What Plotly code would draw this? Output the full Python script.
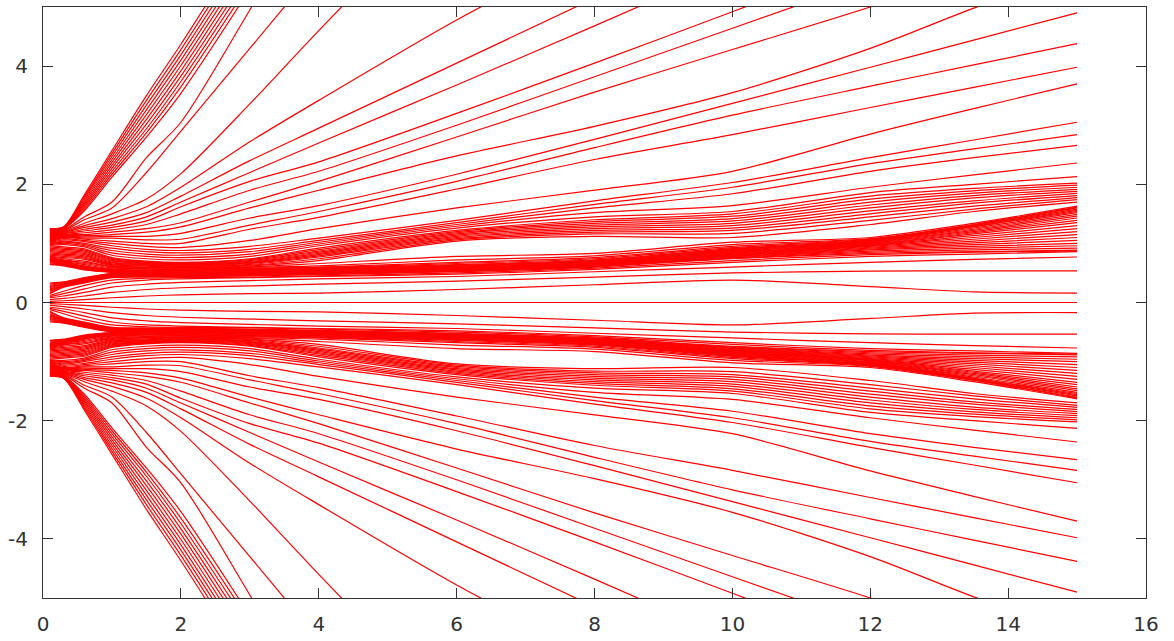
import plotly.graph_objects as go

# shared x positions of the sampled trajectory points
X_GRID = [0.1, 0.3, 0.6, 1.0, 1.5, 2.0, 3.0, 4.0, 6.0, 8.0, 10.0, 12.0, 13.5, 15.0]

CENTER_LINE = [0.0, 0.0, 0.0, 0.0, 0.0, 0.0, 0.0, 0.0, 0.0, 0.0, 0.0, 0.0, 0.0, 0.0]

# upper half: outer fan (leave through the top or end high)
UPPER_FAN = [
    [1.25, 1.28, 1.82, 2.57, 3.50, 4.37, 6.2],
    [1.24, 1.28, 1.79, 2.52, 3.42, 4.28, 6.1],
    [1.23, 1.27, 1.76, 2.47, 3.34, 4.19, 6.0],
    [1.22, 1.27, 1.73, 2.42, 3.26, 4.10, 5.9],
    [1.21, 1.26, 1.70, 2.37, 3.18, 4.01, 5.8],
    [1.20, 1.26, 1.67, 2.32, 3.10, 3.92, 5.7],
    [1.19, 1.25, 1.64, 2.27, 3.02, 3.83, 5.6],
    [1.18, 1.25, 1.61, 2.22, 2.94, 3.74, 5.5],
    [1.17, 1.24, 1.58, 2.17, 2.87, 3.65, 5.4],
    [1.16, 1.24, 1.55, 2.12, 2.80, 3.54, 5.3],
    [1.15, 1.22, 1.45, 1.70, 2.45, 3.05, 4.95, 6.9],
    [1.14, 1.21, 1.40, 1.60, 2.20, 2.90, 4.30, 5.7],
    [1.13, 1.20, 1.34, 1.50, 1.75, 2.18, 3.36, 4.60, 7.0],
    [1.12, 1.19, 1.30, 1.42, 1.62, 1.95, 2.72, 3.42, 4.78, 6.0],
    [1.11, 1.18, 1.27, 1.36, 1.52, 1.80, 2.40, 2.95, 4.05, 5.15],
    [1.10, 1.17, 1.24, 1.31, 1.45, 1.70, 2.20, 2.70, 3.68, 4.68, 5.7],
    [1.09, 1.16, 1.21, 1.27, 1.38, 1.62, 2.05, 2.38, 3.20, 4.05, 4.92, 5.8],
    [1.08, 1.15, 1.18, 1.23, 1.32, 1.50, 1.90, 2.22, 3.00, 3.82, 4.64, 5.46],
    [1.07, 1.14, 1.15, 1.19, 1.25, 1.35, 1.70, 2.05, 2.80, 3.56, 4.28, 5.0, 5.6],
    [1.06, 1.13, 1.13, 1.15, 1.19, 1.28, 1.60, 1.90, 2.48, 2.98, 3.55, 4.30, 4.98, 5.6],
    [1.05, 1.12, 1.11, 1.12, 1.12, 1.17, 1.43, 1.64, 2.17, 2.76, 3.37, 3.98, 4.44, 4.90],
    [1.04, 1.11, 1.09, 1.09, 1.06, 1.07, 1.31, 1.54, 2.05, 2.62, 3.17, 3.66, 4.02, 4.38],
    [1.03, 1.10, 1.07, 1.04, 1.00, 1.00, 1.24, 1.44, 1.92, 2.42, 2.84, 3.30, 3.64, 3.98],
    [1.02, 1.08, 1.05, 1.00, 0.95, 0.93, 1.05, 1.25, 1.60, 1.90, 2.22, 2.85, 3.28, 3.70],
    [1.01, 1.06, 1.03, 0.96, 0.90, 0.88, 0.95, 1.09, 1.39, 1.72, 2.03, 2.45, 2.75, 3.05],
    [1.00, 1.04, 1.00, 0.92, 0.86, 0.84, 0.90, 1.05, 1.35, 1.66, 1.95, 2.35, 2.60, 2.84],
    [0.99, 1.02, 0.98, 0.88, 0.82, 0.80, 0.86, 1.02, 1.32, 1.60, 1.84, 2.22, 2.45, 2.66],
    [0.98, 1.00, 0.96, 0.84, 0.78, 0.76, 0.82, 0.99, 1.29, 1.52, 1.64, 1.95, 2.16, 2.36],
    [0.97, 0.98, 0.94, 0.80, 0.74, 0.72, 0.78, 0.96, 1.26, 1.45, 1.54, 1.86, 2.00, 2.13],
]

# upper half: band that ends between 1.70 and 2.02
UPPER_BAND_HIGH = [
    [0.96, 0.94, 0.91, 0.76, 0.70, 0.68, 0.74, 0.92, 1.22, 1.40, 1.50, 1.80, 1.93, 2.02],
    [0.94, 0.92, 0.89, 0.745, 0.69, 0.67, 0.725, 0.895, 1.20, 1.37, 1.46, 1.75, 1.89, 1.985],
    [0.92, 0.90, 0.87, 0.73, 0.68, 0.66, 0.71, 0.87, 1.18, 1.34, 1.42, 1.70, 1.85, 1.95],
    [0.90, 0.88, 0.85, 0.715, 0.67, 0.65, 0.695, 0.85, 1.16, 1.31, 1.38, 1.65, 1.81, 1.915],
    [0.88, 0.86, 0.83, 0.70, 0.66, 0.64, 0.68, 0.83, 1.14, 1.28, 1.34, 1.60, 1.77, 1.88],
    [0.86, 0.84, 0.81, 0.685, 0.65, 0.63, 0.67, 0.81, 1.12, 1.25, 1.30, 1.55, 1.72, 1.845],
    [0.84, 0.82, 0.79, 0.67, 0.64, 0.62, 0.66, 0.79, 1.10, 1.22, 1.26, 1.50, 1.68, 1.81],
    [0.82, 0.80, 0.77, 0.655, 0.63, 0.61, 0.645, 0.77, 1.08, 1.19, 1.22, 1.45, 1.63, 1.775],
    [0.80, 0.78, 0.75, 0.64, 0.615, 0.60, 0.63, 0.74, 1.06, 1.16, 1.17, 1.39, 1.58, 1.74],
    [0.78, 0.76, 0.73, 0.625, 0.60, 0.59, 0.62, 0.71, 1.04, 1.12, 1.10, 1.32, 1.54, 1.70],
]

# upper half: band that ends between 0.885 and 1.63
UPPER_BAND_LOW = [
    [0.15, 0.26, 0.33, 0.42, 0.43, 0.43, 0.45, 0.47, 0.52, 0.60, 0.74, 0.83, 0.86, 0.885],
    [0.17, 0.27, 0.34, 0.43, 0.44, 0.44, 0.46, 0.48, 0.53, 0.61, 0.75, 0.85, 0.89, 0.92],
    [0.19, 0.28, 0.35, 0.44, 0.45, 0.445, 0.465, 0.485, 0.535, 0.615, 0.76, 0.87, 0.92, 0.96],
    [0.21, 0.29, 0.36, 0.45, 0.455, 0.45, 0.47, 0.49, 0.54, 0.62, 0.77, 0.89, 0.95, 1.00],
    [0.23, 0.30, 0.37, 0.46, 0.46, 0.455, 0.475, 0.495, 0.545, 0.625, 0.78, 0.905, 0.98, 1.05],
    [0.25, 0.31, 0.38, 0.47, 0.465, 0.46, 0.48, 0.50, 0.55, 0.63, 0.79, 0.92, 1.01, 1.10],
    [0.27, 0.32, 0.39, 0.48, 0.47, 0.465, 0.485, 0.505, 0.555, 0.635, 0.80, 0.935, 1.04, 1.15],
    [0.29, 0.33, 0.40, 0.485, 0.475, 0.47, 0.49, 0.51, 0.56, 0.64, 0.81, 0.95, 1.07, 1.20],
    [0.31, 0.34, 0.41, 0.49, 0.48, 0.475, 0.495, 0.515, 0.565, 0.645, 0.82, 0.96, 1.10, 1.25],
    [0.33, 0.35, 0.42, 0.495, 0.485, 0.48, 0.50, 0.52, 0.57, 0.65, 0.83, 0.97, 1.13, 1.30],
    [0.64, 0.62, 0.55, 0.51, 0.49, 0.485, 0.505, 0.525, 0.575, 0.655, 0.84, 0.98, 1.16, 1.35],
    [0.655, 0.63, 0.56, 0.515, 0.495, 0.49, 0.51, 0.53, 0.58, 0.66, 0.85, 0.99, 1.18, 1.39],
    [0.67, 0.64, 0.57, 0.52, 0.50, 0.495, 0.515, 0.535, 0.59, 0.67, 0.86, 1.00, 1.20, 1.43],
    [0.685, 0.65, 0.58, 0.525, 0.505, 0.50, 0.52, 0.54, 0.60, 0.68, 0.87, 1.01, 1.22, 1.46],
    [0.70, 0.66, 0.59, 0.53, 0.51, 0.51, 0.53, 0.55, 0.61, 0.69, 0.88, 1.02, 1.24, 1.49],
    [0.71, 0.67, 0.60, 0.54, 0.52, 0.52, 0.54, 0.56, 0.62, 0.70, 0.89, 1.03, 1.26, 1.52],
    [0.72, 0.68, 0.61, 0.55, 0.53, 0.53, 0.55, 0.57, 0.63, 0.71, 0.90, 1.04, 1.28, 1.54],
    [0.73, 0.69, 0.62, 0.56, 0.54, 0.54, 0.56, 0.58, 0.64, 0.72, 0.91, 1.05, 1.29, 1.56],
    [0.74, 0.70, 0.64, 0.57, 0.55, 0.55, 0.57, 0.59, 0.66, 0.74, 0.93, 1.06, 1.30, 1.58],
    [0.75, 0.71, 0.66, 0.585, 0.565, 0.56, 0.58, 0.60, 0.68, 0.76, 0.95, 1.07, 1.31, 1.60],
    [0.76, 0.72, 0.68, 0.60, 0.575, 0.57, 0.595, 0.62, 0.72, 0.79, 0.98, 1.08, 1.32, 1.615],
    [0.77, 0.74, 0.70, 0.61, 0.59, 0.58, 0.605, 0.66, 0.78, 0.83, 1.02, 1.10, 1.34, 1.63],
]

# upper half: sparse lines just above the centre
UPPER_MID = [
    [0.02, 0.03, 0.05, 0.08, 0.11, 0.13, 0.15, 0.16, 0.22, 0.30, 0.38, 0.27, 0.18, 0.16],
    [0.05, 0.07, 0.11, 0.17, 0.22, 0.25, 0.28, 0.31, 0.36, 0.43, 0.50, 0.53, 0.535, 0.535],
    [0.08, 0.11, 0.17, 0.26, 0.31, 0.34, 0.37, 0.40, 0.44, 0.52, 0.60, 0.68, 0.73, 0.77],
    [0.10, 0.15, 0.23, 0.33, 0.38, 0.40, 0.42, 0.44, 0.48, 0.56, 0.68, 0.78, 0.82, 0.86],
    [0.12, 0.19, 0.29, 0.38, 0.41, 0.42, 0.43, 0.45, 0.50, 0.58, 0.71, 0.81, 0.85, 0.875],
]

LOWER_FAN = [
    [-1.25, -1.28, -1.82, -2.57, -3.50, -4.37, -6.2],
    [-1.24, -1.28, -1.79, -2.52, -3.42, -4.28, -6.1],
    [-1.23, -1.27, -1.76, -2.47, -3.34, -4.19, -6.0],
    [-1.22, -1.27, -1.73, -2.42, -3.26, -4.10, -5.9],
    [-1.21, -1.26, -1.70, -2.37, -3.18, -4.01, -5.8],
    [-1.20, -1.26, -1.67, -2.32, -3.10, -3.92, -5.7],
    [-1.19, -1.25, -1.64, -2.27, -3.02, -3.83, -5.6],
    [-1.18, -1.25, -1.61, -2.22, -2.94, -3.74, -5.5],
    [-1.17, -1.24, -1.58, -2.17, -2.87, -3.65, -5.4],
    [-1.16, -1.24, -1.55, -2.12, -2.80, -3.54, -5.3],
    [-1.15, -1.22, -1.45, -1.70, -2.45, -3.05, -4.95, -6.9],
    [-1.14, -1.21, -1.40, -1.60, -2.20, -2.90, -4.30, -5.7],
    [-1.13, -1.20, -1.34, -1.50, -1.75, -2.18, -3.36, -4.60, -7.0],
    [-1.12, -1.19, -1.30, -1.42, -1.62, -1.95, -2.72, -3.42, -4.78, -6.0],
    [-1.11, -1.18, -1.27, -1.36, -1.52, -1.80, -2.40, -2.95, -4.05, -5.15],
    [-1.10, -1.17, -1.24, -1.31, -1.45, -1.70, -2.20, -2.70, -3.68, -4.68, -5.7],
    [-1.09, -1.16, -1.21, -1.27, -1.38, -1.62, -2.05, -2.38, -3.20, -4.05, -4.92, -5.8],
    [-1.08, -1.15, -1.18, -1.23, -1.32, -1.50, -1.90, -2.22, -3.00, -3.82, -4.64, -5.46],
    [-1.07, -1.14, -1.15, -1.19, -1.25, -1.35, -1.70, -2.05, -2.80, -3.56, -4.28, -5.0, -5.6],
    [-1.06, -1.13, -1.13, -1.15, -1.19, -1.28, -1.60, -1.90, -2.48, -2.98, -3.55, -4.30, -4.98, -5.6],
    [-1.05, -1.12, -1.11, -1.12, -1.12, -1.17, -1.43, -1.64, -2.17, -2.76, -3.37, -3.98, -4.44, -4.90],
    [-1.04, -1.11, -1.09, -1.09, -1.06, -1.07, -1.31, -1.54, -2.05, -2.62, -3.17, -3.66, -4.02, -4.38],
    [-1.03, -1.10, -1.07, -1.04, -1.00, -1.00, -1.24, -1.44, -1.92, -2.42, -2.84, -3.30, -3.64, -3.98],
    [-1.02, -1.08, -1.05, -1.00, -0.95, -0.93, -1.05, -1.25, -1.60, -1.90, -2.22, -2.85, -3.28, -3.70],
    [-1.01, -1.06, -1.03, -0.96, -0.90, -0.88, -0.95, -1.09, -1.39, -1.72, -2.03, -2.45, -2.75, -3.05],
    [-1.00, -1.04, -1.00, -0.92, -0.86, -0.84, -0.90, -1.05, -1.35, -1.66, -1.95, -2.35, -2.60, -2.84],
    [-0.99, -1.02, -0.98, -0.88, -0.82, -0.80, -0.86, -1.02, -1.32, -1.60, -1.84, -2.22, -2.45, -2.66],
    [-0.98, -1.00, -0.96, -0.84, -0.78, -0.76, -0.82, -0.99, -1.29, -1.52, -1.64, -1.95, -2.16, -2.36],
    [-0.97, -0.98, -0.94, -0.80, -0.74, -0.72, -0.78, -0.96, -1.26, -1.45, -1.54, -1.86, -2.00, -2.13],
]

LOWER_BAND_HIGH = [
    [-0.96, -0.94, -0.91, -0.76, -0.70, -0.68, -0.74, -0.92, -1.22, -1.40, -1.50, -1.80, -1.93, -2.02],
    [-0.94, -0.92, -0.89, -0.745, -0.69, -0.67, -0.725, -0.895, -1.20, -1.37, -1.46, -1.75, -1.89, -1.985],
    [-0.92, -0.90, -0.87, -0.73, -0.68, -0.66, -0.71, -0.87, -1.18, -1.34, -1.42, -1.70, -1.85, -1.95],
    [-0.90, -0.88, -0.85, -0.715, -0.67, -0.65, -0.695, -0.85, -1.16, -1.31, -1.38, -1.65, -1.81, -1.915],
    [-0.88, -0.86, -0.83, -0.70, -0.66, -0.64, -0.68, -0.83, -1.14, -1.28, -1.34, -1.60, -1.77, -1.88],
    [-0.86, -0.84, -0.81, -0.685, -0.65, -0.63, -0.67, -0.81, -1.12, -1.25, -1.30, -1.55, -1.72, -1.845],
    [-0.84, -0.82, -0.79, -0.67, -0.64, -0.62, -0.66, -0.79, -1.10, -1.22, -1.26, -1.50, -1.68, -1.81],
    [-0.82, -0.80, -0.77, -0.655, -0.63, -0.61, -0.645, -0.77, -1.08, -1.19, -1.22, -1.45, -1.63, -1.775],
    [-0.80, -0.78, -0.75, -0.64, -0.615, -0.60, -0.63, -0.74, -1.06, -1.16, -1.17, -1.39, -1.58, -1.74],
    [-0.78, -0.76, -0.73, -0.625, -0.60, -0.59, -0.62, -0.71, -1.04, -1.12, -1.10, -1.32, -1.54, -1.70],
]

LOWER_BAND_LOW = [
    [-0.15, -0.26, -0.33, -0.42, -0.43, -0.43, -0.45, -0.47, -0.52, -0.60, -0.74, -0.83, -0.86, -0.885],
    [-0.17, -0.27, -0.34, -0.43, -0.44, -0.44, -0.46, -0.48, -0.53, -0.61, -0.75, -0.85, -0.89, -0.92],
    [-0.19, -0.28, -0.35, -0.44, -0.45, -0.445, -0.465, -0.485, -0.535, -0.615, -0.76, -0.87, -0.92, -0.96],
    [-0.21, -0.29, -0.36, -0.45, -0.455, -0.45, -0.47, -0.49, -0.54, -0.62, -0.77, -0.89, -0.95, -1.00],
    [-0.23, -0.30, -0.37, -0.46, -0.46, -0.455, -0.475, -0.495, -0.545, -0.625, -0.78, -0.905, -0.98, -1.05],
    [-0.25, -0.31, -0.38, -0.47, -0.465, -0.46, -0.48, -0.50, -0.55, -0.63, -0.79, -0.92, -1.01, -1.10],
    [-0.27, -0.32, -0.39, -0.48, -0.47, -0.465, -0.485, -0.505, -0.555, -0.635, -0.80, -0.935, -1.04, -1.15],
    [-0.29, -0.33, -0.40, -0.485, -0.475, -0.47, -0.49, -0.51, -0.56, -0.64, -0.81, -0.95, -1.07, -1.20],
    [-0.31, -0.34, -0.41, -0.49, -0.48, -0.475, -0.495, -0.515, -0.565, -0.645, -0.82, -0.96, -1.10, -1.25],
    [-0.33, -0.35, -0.42, -0.495, -0.485, -0.48, -0.50, -0.52, -0.57, -0.65, -0.83, -0.97, -1.13, -1.30],
    [-0.64, -0.62, -0.55, -0.51, -0.49, -0.485, -0.505, -0.525, -0.575, -0.655, -0.84, -0.98, -1.16, -1.35],
    [-0.655, -0.63, -0.56, -0.515, -0.495, -0.49, -0.51, -0.53, -0.58, -0.66, -0.85, -0.99, -1.18, -1.39],
    [-0.67, -0.64, -0.57, -0.52, -0.50, -0.495, -0.515, -0.535, -0.59, -0.67, -0.86, -1.00, -1.20, -1.43],
    [-0.685, -0.65, -0.58, -0.525, -0.505, -0.50, -0.52, -0.54, -0.60, -0.68, -0.87, -1.01, -1.22, -1.46],
    [-0.70, -0.66, -0.59, -0.53, -0.51, -0.51, -0.53, -0.55, -0.61, -0.69, -0.88, -1.02, -1.24, -1.49],
    [-0.71, -0.67, -0.60, -0.54, -0.52, -0.52, -0.54, -0.56, -0.62, -0.70, -0.89, -1.03, -1.26, -1.52],
    [-0.72, -0.68, -0.61, -0.55, -0.53, -0.53, -0.55, -0.57, -0.63, -0.71, -0.90, -1.04, -1.28, -1.54],
    [-0.73, -0.69, -0.62, -0.56, -0.54, -0.54, -0.56, -0.58, -0.64, -0.72, -0.91, -1.05, -1.29, -1.56],
    [-0.74, -0.70, -0.64, -0.57, -0.55, -0.55, -0.57, -0.59, -0.66, -0.74, -0.93, -1.06, -1.30, -1.58],
    [-0.75, -0.71, -0.66, -0.585, -0.565, -0.56, -0.58, -0.60, -0.68, -0.76, -0.95, -1.07, -1.31, -1.60],
    [-0.76, -0.72, -0.68, -0.60, -0.575, -0.57, -0.595, -0.62, -0.72, -0.79, -0.98, -1.08, -1.32, -1.615],
    [-0.77, -0.74, -0.70, -0.61, -0.59, -0.58, -0.605, -0.66, -0.78, -0.83, -1.02, -1.10, -1.34, -1.63],
]

LOWER_MID = [
    [-0.02, -0.03, -0.05, -0.08, -0.11, -0.13, -0.15, -0.16, -0.22, -0.30, -0.38, -0.27, -0.18, -0.17],
    [-0.05, -0.07, -0.11, -0.17, -0.22, -0.25, -0.28, -0.31, -0.36, -0.43, -0.50, -0.53, -0.535, -0.535],
    [-0.08, -0.11, -0.17, -0.26, -0.31, -0.34, -0.37, -0.40, -0.44, -0.52, -0.60, -0.68, -0.73, -0.77],
    [-0.10, -0.15, -0.23, -0.33, -0.38, -0.40, -0.42, -0.44, -0.48, -0.56, -0.68, -0.78, -0.82, -0.86],
    [-0.12, -0.19, -0.29, -0.38, -0.41, -0.42, -0.43, -0.45, -0.50, -0.58, -0.71, -0.81, -0.85, -0.875],
]

X_TICKS = [0, 2, 4, 6, 8, 10, 12, 14, 16]
Y_TICKS = [-4, -2, 0, 2, 4]
Y_TICK_TEXT = ["-4", "-2", "0", "2", "4"]

LINE_COLOR = "#ff0000"
AXIS_COLOR = "#333333"

fig = go.Figure()

groups = [UPPER_FAN, UPPER_BAND_HIGH, UPPER_BAND_LOW, UPPER_MID,
          [CENTER_LINE],
          LOWER_MID, LOWER_BAND_LOW, LOWER_BAND_HIGH, LOWER_FAN]
for group in groups:
    for ys in group:
        fig.add_trace(go.Scatter(
            x=X_GRID[:len(ys)], y=ys, mode="lines",
            line=dict(color=LINE_COLOR, width=1.2, shape="spline", smoothing=0.8),
            hoverinfo="skip", showlegend=False,
        ))

axis_common = dict(
    showgrid=False, zeroline=False, showline=True, linecolor=AXIS_COLOR, linewidth=1,
    mirror="ticks", ticks="inside", ticklen=10, tickwidth=1, tickcolor=AXIS_COLOR,
    tickfont=dict(family="DejaVu Sans", size=20, color=AXIS_COLOR),
    automargin=False,
)

fig.update_layout(
    width=1174, height=641,
    margin=dict(l=43, r=28, t=7, b=43),
    paper_bgcolor="white", plot_bgcolor="white",
    xaxis=dict(range=[0, 16], tickvals=X_TICKS, ticklabelstandoff=8, **axis_common),
    yaxis=dict(range=[-5, 5], tickvals=Y_TICKS, ticktext=Y_TICK_TEXT,
               ticklabelstandoff=10, **axis_common),
    showlegend=False,
)

fig.write_html("out.html")
